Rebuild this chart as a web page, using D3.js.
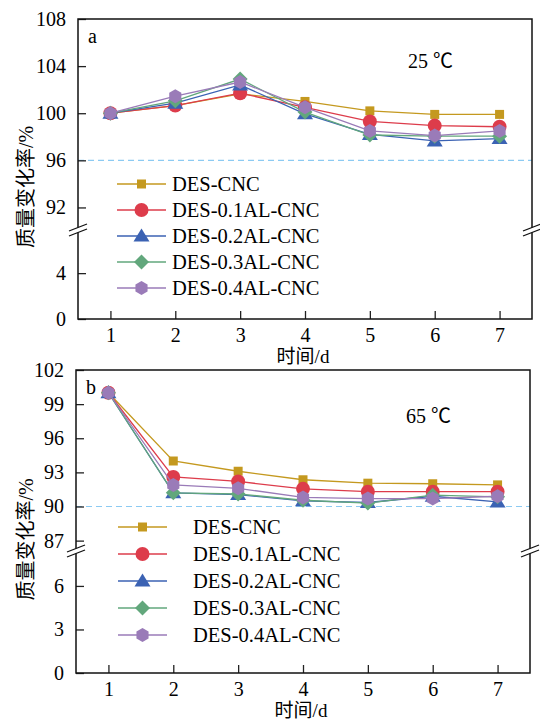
<!DOCTYPE html>
<html>
  <head>
    <style>
      body {
        margin: 0;
        background: #fff;
      }
      svg {
        display: block;
      }
      svg text {
        font-family: "Liberation Serif", "Times New Roman", "Noto Sans CJK SC", serif;
        fill: #000;
      }
      .tick text {
        font-size: 20px;
      }
      .tick line {
        stroke: #222;
        stroke-width: 1.3px;
      }
    </style>
  </head>
  <body>
    <script src="https://d3js.org/d3.v7.min.js"></script>
    <script>
      const width = 540, height = 720;

      const days = [1, 2, 3, 4, 5, 6, 7];
      const seriesNames = ["DES-CNC", "DES-0.1AL-CNC", "DES-0.2AL-CNC", "DES-0.3AL-CNC", "DES-0.4AL-CNC"];
      const colors = ["#c4991f", "#dd3c4b", "#3b62b3", "#62a77c", "#9a7bb8"];
      const shapes = ["square", "circle", "triangle", "diamond", "hexagon"];

      // panel a, 25 ℃
      const cnc25   = [100, 100.65, 101.65, 101.0, 100.2, 99.9, 99.9];
      const al01_25 = [100, 100.65, 101.7, 100.5, 99.3, 98.95, 98.85];
      const al02_25 = [100, 100.85, 102.4, 99.95, 98.2, 97.65, 97.85];
      const al03_25 = [100, 101.05, 102.9, 100.1, 98.15, 98.05, 98.05];
      const al04_25 = [100, 101.45, 102.65, 100.5, 98.5, 98.1, 98.5];

      // panel b, 65 ℃
      const cnc65   = [100, 94.0, 93.1, 92.35, 92.05, 92.0, 91.9];
      const al01_65 = [100, 92.6, 92.2, 91.55, 91.3, 91.3, 91.3];
      const al02_65 = [100, 91.2, 91.05, 90.5, 90.35, 90.9, 90.4];
      const al03_65 = [100, 91.2, 91.1, 90.55, 90.3, 91.0, 90.85];
      const al04_65 = [100, 91.9, 91.6, 90.8, 90.7, 90.7, 90.9];

      const ticksA = {upper: [92, 96, 100, 104, 108], lower: [0, 4]};
      const ticksB = {upper: [87, 90, 93, 96, 99, 102], lower: [0, 3, 6]};

      const svg = d3.select("body").append("svg")
          .attr("width", width)
          .attr("height", height);

      drawPanel({
        left: 78, right: 532, top: 19, bottom: 319, breakY: 232,
        upper: [90, 108], lower: [0, 7.5],
        ticks: ticksA, refLine: 96,
        series: [cnc25, al01_25, al02_25, al03_25, al04_25],
        letter: "a", temp: "25 ℃", tempX: 408, tempY: 68,
        legendX: 117, legendTextX: 172, legendY: 184, legendStep: 26
      });

      drawPanel({
        left: 76, right: 530, top: 370, bottom: 673, breakY: 553,
        upper: [86, 102], lower: [0, 8.2],
        ticks: ticksB, refLine: 90,
        series: [cnc65, al01_65, al02_65, al03_65, al04_65],
        letter: "b", temp: "65 ℃", tempX: 406, tempY: 423,
        legendX: 118, legendTextX: 193, legendY: 527, legendStep: 27
      });

      function drawPanel(p){
        const g = svg.append("g");

        const x = d3.scaleLinear().domain([0.5, 7.5]).range([p.left, p.right]);
        const yUp = d3.scaleLinear().domain(p.upper).range([p.breakY - 1, p.top]);
        const yLo = d3.scaleLinear().domain(p.lower).range([p.bottom, p.breakY + 1]);
        const y = v => v >= p.upper[0] ? yUp(v) : yLo(v);

        // reference line
        g.append("line")
            .attr("x1", p.left).attr("x2", p.right)
            .attr("y1", yUp(p.refLine)).attr("y2", yUp(p.refLine))
            .attr("stroke", "#8ccaf2")
            .attr("stroke-width", 1.2)
            .attr("stroke-dasharray", "6,4");

        // axes
        g.append("g")
            .attr("transform", `translate(0,${p.bottom})`)
            .call(d3.axisBottom(x).tickValues(days).tickSize(-8).tickPadding(9).tickFormat(d3.format("d")))
            .call(a => a.select(".domain").remove());

        g.append("g")
            .attr("transform", `translate(${p.left},0)`)
            .call(d3.axisLeft(yUp).tickValues(p.ticks.upper).tickSize(-8).tickPadding(12))
            .call(a => a.select(".domain").remove());

        g.append("g")
            .attr("transform", `translate(${p.left},0)`)
            .call(d3.axisLeft(yLo).tickValues(p.ticks.lower).tickSize(-8).tickPadding(12))
            .call(a => a.select(".domain").remove());

        g.selectAll("g").attr("font-family", null).attr("font-size", null);

        // frame
        g.append("rect")
            .attr("x", p.left).attr("y", p.top)
            .attr("width", p.right - p.left).attr("height", p.bottom - p.top)
            .attr("fill", "none")
            .attr("stroke", "#111")
            .attr("stroke-width", 1.5);

        // break marks
        [p.left, p.right].forEach(cx => {
          g.append("polygon")
              .attr("points", [[cx - 9, p.breakY + 4], [cx + 9, p.breakY - 3], [cx + 9, p.breakY - 8], [cx - 9, p.breakY - 1]].join(" "))
              .attr("fill", "#fff");
          [0, -5].forEach(dy => {
            g.append("line")
                .attr("x1", cx - 9).attr("y1", p.breakY + 4 + dy)
                .attr("x2", cx + 9).attr("y2", p.breakY - 3 + dy)
                .attr("stroke", "#111")
                .attr("stroke-width", 1.3);
          });
        });

        // series
        const line = d3.line()
            .x((d, i) => x(days[i]))
            .y(d => y(d));

        p.series.forEach((vals, k) => {
          g.append("path")
              .datum(vals)
              .attr("d", line)
              .attr("fill", "none")
              .attr("stroke", colors[k])
              .attr("stroke-width", 1.3);

          g.selectAll(null)
              .data(vals)
              .join("path")
              .attr("d", marker(shapes[k]))
              .attr("transform", (d, i) => `translate(${x(days[i])},${y(d)})`)
              .attr("fill", colors[k]);
        });

        // legend
        seriesNames.forEach((name, k) => {
          const ly = p.legendY + k * p.legendStep;
          g.append("line")
              .attr("x1", p.legendX).attr("x2", p.legendX + 49)
              .attr("y1", ly).attr("y2", ly)
              .attr("stroke", colors[k])
              .attr("stroke-width", 1.3);
          g.append("path")
              .attr("d", marker(shapes[k]))
              .attr("transform", `translate(${p.legendX + 24.5},${ly})`)
              .attr("fill", colors[k]);
          g.append("text")
              .attr("x", p.legendTextX).attr("y", ly + 7)
              .attr("font-size", 20.5)
              .text(name);
        });

        g.append("text")
            .attr("x", p.left + 10).attr("y", p.top + 24)
            .attr("font-size", 20)
            .text(p.letter);

        g.append("text")
            .attr("x", p.tempX).attr("y", p.tempY)
            .attr("font-size", 20)
            .text(p.temp);

        // axis titles
        g.append("text")
            .attr("x", (p.left + p.right) / 2 - 2)
            .attr("y", p.bottom + 44)
            .attr("text-anchor", "middle")
            .attr("font-size", 19)
            .text("时间/d");

        g.append("text")
            .attr("transform", `translate(33,${(p.top + p.bottom) / 2 + 18}) rotate(-90)`)
            .attr("text-anchor", "middle")
            .attr("font-size", 20)
            .text("质量变化率/%");
      }

      function marker(type){
        if (type === "square") return "M-4.5,-4.5H4.5V4.5H-4.5Z";
        if (type === "circle") return d3.symbol(d3.symbolCircle, Math.PI * 49)();
        if (type === "triangle") return "M0,-7.5L8,5.5H-8Z";
        if (type === "diamond") return "M0,-7.5L7.5,0L0,7.5L-7.5,0Z";
        const pts = d3.range(6).map(i => {
          const a = Math.PI / 2 + i * Math.PI / 3;
          return [7 * Math.cos(a), -7 * Math.sin(a)];
        });
        return "M" + pts.join("L") + "Z";
      }
    </script>
  </body>
</html>
